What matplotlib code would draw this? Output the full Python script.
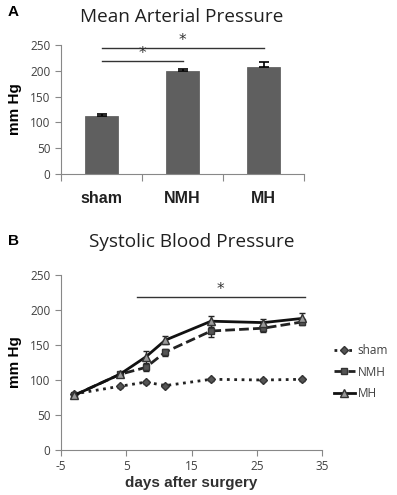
import matplotlib
matplotlib.use("Agg")
import matplotlib.pyplot as plt
from matplotlib.lines import Line2D
import numpy as np

plt.rcParams["axes.unicode_minus"] = False

# Panel A data
groups = ["sham", "NMH", "MH"]
map_mean = [113, 199, 207]
map_err = [3, 5, 10]

# Panel B data
days = [-3, 4, 8, 11, 18, 26, 32]
sham = [80, 91, 97, 92, 101, 100, 101]
nmh = [78, 108, 118, 140, 170, 174, 183]
mh = [78, 108, 133, 157, 184, 182, 188]
sham_err = [2, 2, 2, 2, 2, 2, 2]
nmh_err = [3, 4, 5, 5, 8, 5, 4]
mh_err = [3, 4, 8, 6, 8, 5, 8]

fig = plt.figure(figsize=(3.97, 4.95), dpi=100)
title_font = "Open Sans"
gray = "#404040"
spine_c = "#888888"

# ---------- Panel A ----------
axA = fig.add_axes([61/397, 1-174/495, 243/397, 129/495])
x = np.arange(len(groups))
axA.bar(x, map_mean, width=0.4, color="#5f5f5f", edgecolor="#555555", linewidth=0.5, zorder=2)
axA.errorbar(x, map_mean, yerr=[np.zeros(3), map_err], fmt="none", ecolor="black",
             elinewidth=1.2, capsize=3.5, capthick=1.2, zorder=3)
axA.set_xlim(-0.5, 2.5)
axA.set_ylim(0, 250)
axA.set_yticks([0, 50, 100, 150, 200, 250])
axA.set_xticks([-0.5, 0.5, 1.5, 2.5], minor=False)
axA.set_xticklabels([])
axA.set_xticks(x, minor=True)
axA.set_xticklabels(groups, minor=True, fontsize=11.5, fontweight="bold",
                    family="Liberation Sans", color="#202020")
axA.tick_params(axis="x", which="minor", length=0, pad=12)
axA.tick_params(axis="x", which="major", length=5, color=spine_c, direction="out")
axA.tick_params(axis="y", length=4, color=spine_c, labelsize=8.5, labelcolor=gray)
for lab in axA.get_yticklabels():
    lab.set_family(title_font)
for s in ["top", "right"]:
    axA.spines[s].set_visible(False)
for s in ["left", "bottom"]:
    axA.spines[s].set_color(spine_c)
axA.set_ylabel("mm Hg", fontsize=11, fontweight="bold", family="Liberation Sans", labelpad=6)
# significance
axA.plot([0, 1], [219, 219], color="#333333", lw=1)
axA.text(0.5, 219, "*", ha="center", va="bottom", fontsize=11, color="#333333")
axA.plot([0, 2], [245, 245], color="#333333", lw=1, clip_on=False)
axA.text(1.0, 245, "*", ha="center", va="bottom", fontsize=11, color="#333333")
fig.text(182/397, 1-17/495, "Mean Arterial Pressure", ha="center", va="center",
         fontsize=13.7, family=title_font, color="#202020")
fig.text(8/397, 1-12/495, "A", ha="left", va="center", fontsize=11, fontweight="bold",
         family="Liberation Sans")

# ---------- Panel B ----------
axB = fig.add_axes([61/397, 1-450/495, 261/397, 175/495])
styles = [
    dict(color="#222222", ls=":", lw=2, marker="D", ms=4.5, mfc="#555555", mec="#333333"),
    dict(color="#222222", ls=(0, (3.5, 1.5)), lw=2, marker="s", ms=4.5, mfc="#555555", mec="#333333"),
    dict(color="#111111", ls="-", lw=2, marker="^", ms=5.5, mfc="#999999", mec="#333333"),
]
for yv, ev, st in zip([sham, nmh, mh], [sham_err, nmh_err, mh_err], styles):
    axB.errorbar(days, yv, yerr=ev, capsize=2.5, elinewidth=1, ecolor="#222222", **st)
axB.set_xlim(-5, 35)
axB.set_ylim(0, 250)
axB.set_xticks([-5, 5, 15, 25, 35])
axB.set_yticks([0, 50, 100, 150, 200, 250])
axB.tick_params(length=4, color=spine_c, labelsize=8.5, labelcolor=gray)
for lab in axB.get_xticklabels() + axB.get_yticklabels():
    lab.set_family(title_font)
for s in ["top", "right"]:
    axB.spines[s].set_visible(False)
for s in ["left", "bottom"]:
    axB.spines[s].set_color(spine_c)
axB.set_ylabel("mm Hg", fontsize=11, fontweight="bold", family="Liberation Sans", labelpad=6)
axB.set_xlabel("days after surgery", fontsize=11, fontweight="bold", family="Liberation Sans",
               color="#303030", labelpad=2)
axB.plot([6.6, 32.4], [219, 219], color="#333333", lw=1)
axB.text(19.5, 219, "*", ha="center", va="bottom", fontsize=11, color="#333333")
fig.text(192/397, 1-242/495, "Systolic Blood Pressure", ha="center", va="center",
         fontsize=13.7, family=title_font, color="#202020")
fig.text(8/397, 1-241/495, "B", ha="left", va="center", fontsize=11, fontweight="bold",
         family="Liberation Sans")
handles = [Line2D([], [], **st) for st in styles]
leg = axB.legend(handles, ["sham", "NMH", "MH"], loc="center left", bbox_to_anchor=(1.0, 0.445),
                 frameon=False, fontsize=8.5, handlelength=1.8, handletextpad=0.2,
                 labelspacing=0.75, borderaxespad=0.6)
for t in leg.get_texts():
    t.set_color(gray)
    t.set_family(title_font)

fig.savefig("out.png", dpi=100)
